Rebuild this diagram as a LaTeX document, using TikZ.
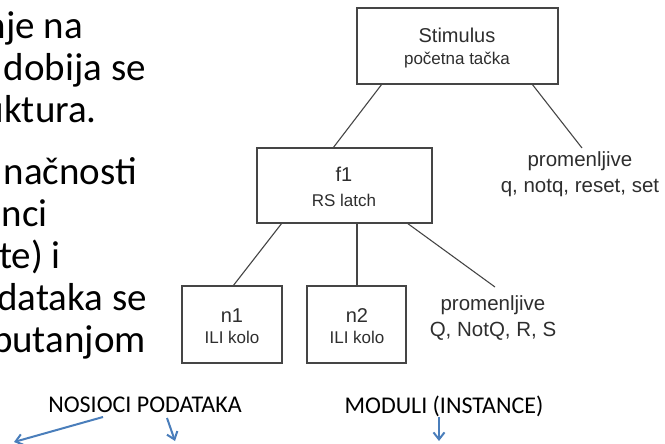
\documentclass[tikz,border=0pt]{standalone}
\usepackage{fontspec}
\setmainfont{Carlito}
\newfontfamily\diagfont{Liberation Sans}
\usetikzlibrary{arrows.meta}
\definecolor{linegray}{HTML}{454545}
\definecolor{textgray}{HTML}{2E2E2E}
\definecolor{arrowblue}{HTML}{4A7EBB}
\tikzset{
  bodytext/.style={inner sep=0pt, anchor=base east, font=\fontsize{39}{42}\selectfont},
  modbox/.style={draw=linegray, line width=1.3pt, fill=white, inner sep=0pt},
  link/.style={draw=linegray, line width=1.1pt},
  bigtxt/.style={inner sep=0pt, anchor=base, text=textgray, font=\diagfont\fontsize{20}{24}\selectfont},
  smalltxt/.style={inner sep=0pt, anchor=base, text=textgray, font=\diagfont\fontsize{17}{20}\selectfont},
  varstxt/.style={inner sep=0pt, anchor=base, text=textgray, font=\diagfont\fontsize{20.5}{24}\selectfont},
  caption/.style={inner sep=0pt, anchor=base, font=\fontsize{24}{28}\selectfont},
  pointer/.style={draw=arrowblue, line width=2pt, -{Straight Barb[length=7pt, width=11pt, line width=2pt]}}
}
\begin{document}
\begin{tikzpicture}[x=1pt, y=-1pt]
\useasboundingbox (0,0) rectangle (665,444);
\clip (0,0) rectangle (665,444);

% running text at the left, cut by the page edge
\node[bodytext] (t1) at (83,39)   {nje na};
\node[bodytext] (t2) at (146,81)  {dobija se};
\node[bodytext] (t3) at (97,123)  {uktura.};
\node[bodytext] (t4) at (137,184) {načnosti};
\node[bodytext] (t5) at (48,226)  {nci};
\node[bodytext] (t6) at (61,268)  {te) i};
\node[bodytext] (t7) at (147,310) {dataka se};
\node[bodytext] (t8) at (146,352) {putanjom};

% module boxes
\path[modbox] (357,8) rectangle (558,84);
\node[bigtxt] (stim) at (457,43) {Stimulus};
\node[smalltxt] (stimsub) at (457,65) {početna tačka};

\path[modbox] (257,148) rectangle (432,223);
\node[bigtxt] (f1) at (344,182) {f1};
\node[smalltxt] (f1sub) at (344,207) {RS latch};

\path[modbox] (182,286) rectangle (282,363);
\node[bigtxt] (n1) at (232,322) {n1};
\node[smalltxt] (n1sub) at (232,343) {ILI kolo};

\path[modbox] (307,286) rectangle (406,363);
\node[bigtxt] (n2) at (357,322) {n2};
\node[smalltxt] (n2sub) at (357,343) {ILI kolo};

% variable lists
\node[varstxt] (v1) at (580,167) {promenljive};
\node[varstxt] (v1b) at (580,193) {q, notq, reset, set};
\node[varstxt] (v2) at (493,310) {promenljive};
\node[varstxt] (v2b) at (493,336) {Q, NotQ, R, S};

% tree edges
\coordinate (sA) at (382,84);  \coordinate (fA) at (333,148);
\coordinate (sB) at (532,84);  \coordinate (vA) at (582,148);
\coordinate (fB) at (282,223); \coordinate (nA) at (233,286);
\coordinate (fC) at (357,223); \coordinate (nB) at (357,286);
\coordinate (fD) at (407,223); \coordinate (vB) at (495,287);
\draw[link] (sA) -- (fA);
\draw[link] (sB) -- (vA);
\draw[link] (fB) -- (nA);
\draw[link] (fC) -- (nB);
\draw[link] (fD) -- (vB);

% captions with pointers
\node[caption] (cap1) at (145,412) {NOSIOCI PODATAKA};
\node[caption] (cap2) at (444,413) {MODULI (INSTANCE)};
\coordinate (p1s) at (103,417); \coordinate (p1e) at (14,442);
\coordinate (p2s) at (167,418); \coordinate (p2e) at (175,441);
\coordinate (p3s) at (439,417); \coordinate (p3e) at (439,441);
\draw[pointer] (p1s) -- (p1e);
\draw[pointer] (p2s) -- (p2e);
\draw[pointer] (p3s) -- (p3e);
\end{tikzpicture}
\end{document}
